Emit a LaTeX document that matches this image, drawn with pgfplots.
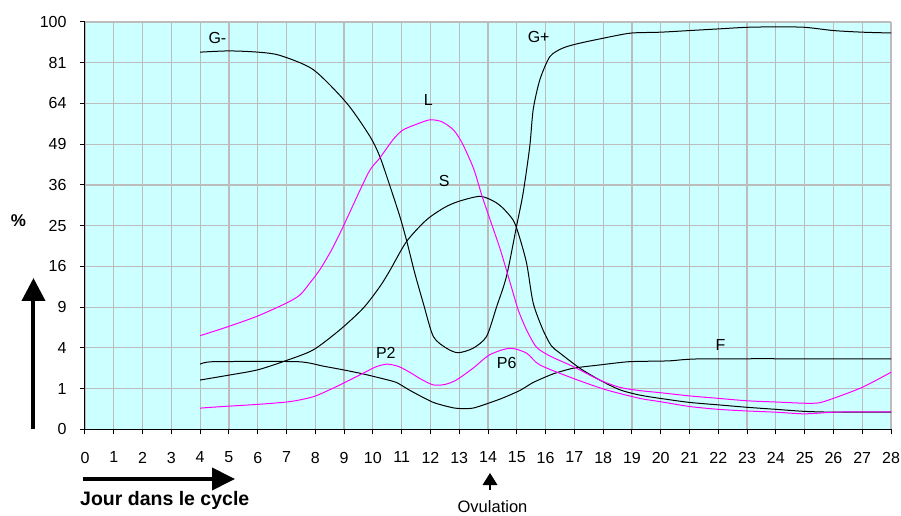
\documentclass[border=0pt]{standalone}
\usepackage{fontspec}
\setmainfont{Liberation Sans}
\usepackage{pgfplots}
\pgfplotsset{compat=1.18}
\usetikzlibrary{arrows.meta}
\definecolor{bgc}{RGB}{204,255,255}
\definecolor{gridc}{RGB}{188,188,188}
\definecolor{mag}{RGB}{255,0,255}
\begin{document}
\begin{tikzpicture}[x=1pt,y=1pt]
\begin{axis}[at={(0,0)}, anchor=south west, scale only axis,
  width=806pt, height=407.3pt,
  xmin=0, xmax=28, ymin=0, ymax=10,
  xtick={0,...,28}, ytick={0,...,10},
  yticklabels={0,1,4,9,16,25,36,49,64,81,100},
  axis x line*=bottom, axis y line*=left,
  axis line style={-, line width=1pt, black},
  axis background/.style={fill=bgc},
  grid=major, grid style={draw=gridc, line width=1.2pt},
  tick align=outside, major tick length=5pt,
  tick style={black, line width=1pt},
  ticklabel style={font=\fontsize{16}{16}\selectfont},
  /pgf/number format/assume math mode=true,
  xticklabel style={yshift=-14pt},
  yticklabel style={xshift=-10pt},
  every axis plot/.append style={line width=1pt},
  clip=false,
]
% G- / G+
\addplot[black, smooth, tension=0.45] coordinates {
(4,9.26) (5,9.29) (6,9.26) (6.77,9.18) (7.93,8.83) (9.09,8.01) (9.9,7.19)
(10.24,6.70) (10.6,5.96) (10.94,5.22) (11.17,4.64) (11.45,3.85) (11.75,3.10)
(12.1,2.28) (12.56,1.99) (12.96,1.88) (13.48,1.99) (13.95,2.28) (14.3,3.01)
(14.64,3.75) (14.99,4.98) (15.22,5.80) (15.45,6.94) (15.57,7.85) (15.8,8.58)
(16.15,9.15) (16.6,9.36) (17.19,9.48) (18.34,9.65) (19,9.73) (20,9.75)
(21,9.79) (22,9.83) (23,9.87) (24,9.88) (25,9.87) (26,9.79) (27,9.75) (28,9.73)};
% S
\addplot[black, smooth, tension=0.45] coordinates {
(4,1.21) (5,1.33) (6,1.46) (7,1.69) (7.93,1.95) (8.85,2.44) (9.66,2.97)
(10.24,3.50) (10.6,3.91) (11.17,4.61) (11.86,5.14) (12.5,5.45) (13,5.60)
(13.72,5.72) (14.2,5.60) (14.52,5.43) (14.87,5.14) (15.05,4.82) (15.34,4.08)
(15.57,3.10) (15.91,2.44) (16.2,2.05) (16.5,1.87) (17.19,1.50) (17.88,1.21)
(18.58,0.97) (19.27,0.84) (19.97,0.76) (21,0.66) (22,0.60) (23,0.54)
(24,0.49) (25,0.44) (26,0.42) (27,0.42) (28,0.42)};
% F
\addplot[black, smooth, tension=0.35] coordinates {
(4,1.60) (4.45,1.66) (7.4,1.66) (8.28,1.55) (8.97,1.46) (9.66,1.36)
(10.3,1.25) (10.82,1.15) (11.3,0.95) (12.1,0.66) (12.85,0.52) (13.48,0.52)
(14.41,0.74) (15.1,0.95) (15.57,1.15) (16.26,1.36) (16.96,1.50) (17.88,1.58)
(18.9,1.66) (20.3,1.68) (21.5,1.73) (28,1.73)};
% L
\addplot[mag, smooth, tension=0.45] coordinates {
(4,2.30) (4.8,2.48) (5.96,2.77) (7.0,3.10) (7.47,3.30) (7.81,3.59) (8.16,3.92)
(8.57,4.41) (8.97,4.98) (9.84,6.29) (10.24,6.66) (10.7,7.11) (11.05,7.35)
(11.63,7.52) (12.0,7.60) (12.4,7.55) (12.8,7.35) (13.1,7.03) (13.5,6.40)
(13.8,5.71) (14.12,5.05) (14.41,4.45) (14.64,3.91) (14.81,3.50) (15.05,2.93)
(15.34,2.44) (15.68,2.02) (16.15,1.80) (16.96,1.54) (17.88,1.21) (18.58,1.03)
(19.27,0.95) (19.97,0.90) (21,0.82) (22,0.76) (23,0.70) (24,0.67) (25,0.64)
(25.5,0.65) (26,0.76) (27,1.03) (28,1.40)};
% P2 / P6
\addplot[mag, smooth, tension=0.45] coordinates {
(4,0.52) (4.8,0.56) (5.96,0.61) (7.12,0.68) (7.93,0.80) (8.62,1.01) (9.2,1.21)
(9.78,1.42) (10.13,1.54) (10.5,1.60) (10.9,1.54) (11.28,1.40) (11.7,1.22)
(12.1,1.09) (12.5,1.10) (12.9,1.21) (13.48,1.50) (14.06,1.83) (14.76,1.99)
(15.34,1.87) (15.8,1.58) (16.96,1.25) (18.1,0.97) (19.27,0.76) (19.97,0.68)
(21,0.56) (22,0.49) (23,0.45) (24,0.42) (25,0.38) (26,0.42) (27,0.43) (28,0.43)};
\begin{scope}[every node/.style={font=\fontsize{16}{16}\selectfont, inner sep=0pt}]
\node at (axis cs:4.60,9.61) {G-};
\node at (axis cs:15.76,9.64) {G+};
\node at (axis cs:11.93,8.09) {L};
\node at (axis cs:12.48,6.09) {S};
\node at (axis cs:10.45,1.87) {P2};
\node at (axis cs:14.65,1.63) {P6};
\node at (axis cs:22.08,2.07) {F};
\end{scope}
\end{axis}
% annotations
\draw[line width=4pt, -{Triangle[width=23pt,length=23pt]}] (-51.5,0) -- (-51.5,151.3);
\draw[line width=4pt, -{Triangle[width=22pt,length=23pt]}] (-2,-49.7) -- (150,-49.7);
\node[font=\bfseries\fontsize{17}{17}\selectfont, inner sep=0pt] at (-66.5,208.3) {\%};
\node[font=\bfseries\fontsize{19.5}{19.5}\selectfont, inner sep=0pt, anchor=west] at (-5,-70.7) {Jour dans le cycle};
\fill (405,-43.7) -- (412.5,-55.7) -- (397.5,-55.7) -- cycle;
\draw[line width=1.5pt] (405,-55) -- (405,-61);
\node[font=\fontsize{16.5}{16.5}\selectfont, inner sep=0pt] at (407.5,-77.7) {Ovulation};
\pgfresetboundingbox
\useasboundingbox (-85,-86.7) rectangle (816,429.3);
\end{tikzpicture}
\end{document}
